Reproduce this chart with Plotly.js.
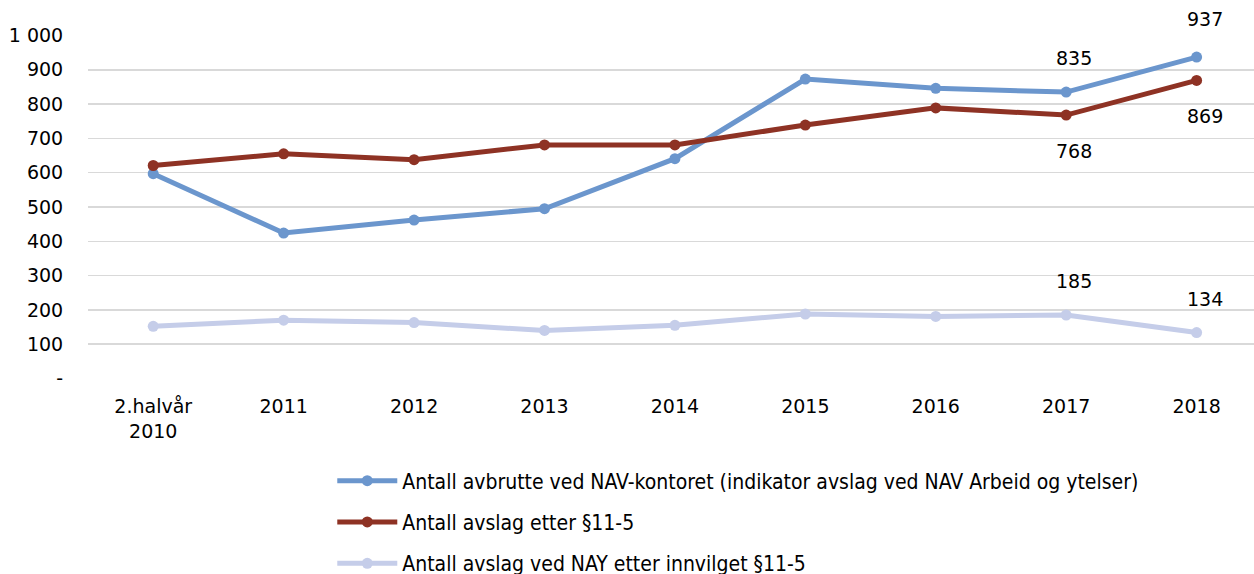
<!DOCTYPE html>
<html>
<head>
<meta charset="utf-8">
<script src="https://cdn.plot.ly/plotly-3.0.1.min.js"></script>
<style>html,body{margin:0;padding:0;background:#fff;overflow:hidden;}#chart{width:1254px;height:600px;}</style>
</head>
<body>
<div id="chart"></div>
<script>
const categories = ["2.halvår<br>2010", "2011", "2012", "2013", "2014", "2015", "2016", "2017", "2018"];
const seriesNames = [
  "Antall avbrutte ved NAV-kontoret (indikator avslag ved NAV Arbeid og ytelser)",
  "Antall avslag etter §11-5",
  "Antall avslag ved NAY etter innvilget §11-5"
];
const avbrutte = [597, 424, 462, 495, 641, 873, 846, 835, 937];
const avslag = [621, 655, 638, 681, 681, 739, 789, 768, 869];
const avslagNAY = [152, 170, 163, 140, 155, 188, 181, 185, 134];
const yTickVals = [0, 100, 200, 300, 400, 500, 600, 700, 800, 900, 1000];
const yTickText = ["-", "100", "200", "300", "400", "500", "600", "700", "800", "900", "1 000"];
const labeledIdx = [7, 8];

const colors = ["#6b96cd", "#8e3224", "#c5cde9"];
const allSeries = [avbrutte, avslag, avslagNAY];

const traces = allSeries.map((vals, i) => ({
  type: "scatter",
  mode: "lines+markers",
  x: categories.map((c, k) => k),
  y: vals,
  name: seriesNames[i],
  legendgroup: "g" + i,
  line: {color: colors[i], width: 5},
  marker: {color: colors[i], size: 11},
  hoverinfo: "skip"
}));

const labelShift = [34, -36, 34];
const annotations = [];
allSeries.forEach((vals, i) => {
  labeledIdx.forEach(j => {
    annotations.push({
      x: j, y: vals[j], xref: "x", yref: "y",
      text: String(vals[j]), showarrow: false,
      yshift: (i === 0 && j === 8) ? 38 : labelShift[i],
      xshift: 8,
      font: {family: "DejaVu Sans", size: 19, color: "#000"}
    });
  });
});

const layout = {
  width: 1254, height: 600,
  margin: {l: 88, r: 0, t: 35, b: 221},
  paper_bgcolor: "#fff", plot_bgcolor: "#fff",
  font: {family: "DejaVu Sans", size: 19, color: "#000"},
  showlegend: true,
  xaxis: {
    type: "linear",
    range: [-0.5, 8.44],
    tickvals: categories.map((c, k) => k),
    ticktext: categories,
    showgrid: false, zeroline: false, showline: false,
    ticks: "outside", ticklen: 10, tickcolor: "rgba(0,0,0,0)",
    tickfont: {family: "DejaVu Sans", size: 19, color: "#000"}
  },
  yaxis: {
    range: [-1.5, 1001.5],
    tickvals: yTickVals, ticktext: yTickText,
    showgrid: true, gridcolor: "#d9d9d9", gridwidth: 1.5,
    zeroline: false, showline: false,
    ticks: "outside", ticklen: 20, tickcolor: "rgba(0,0,0,0)",
    tickfont: {family: "DejaVu Sans", size: 19, color: "#000"}
  },
  legend: {
    x: 0.2095, xanchor: "left",
    y: -0.237, yanchor: "top",
    orientation: "v",
    tracegroupgap: 11,
    itemwidth: 60,
    font: {family: "DejaVu Sans Condensed", size: 21, color: "#000"},
    bgcolor: "rgba(0,0,0,0)"
  },
  annotations: annotations
};

Plotly.newPlot("chart", traces, layout, {displayModeBar: false, staticPlot: true});
</script>
</body>
</html>
